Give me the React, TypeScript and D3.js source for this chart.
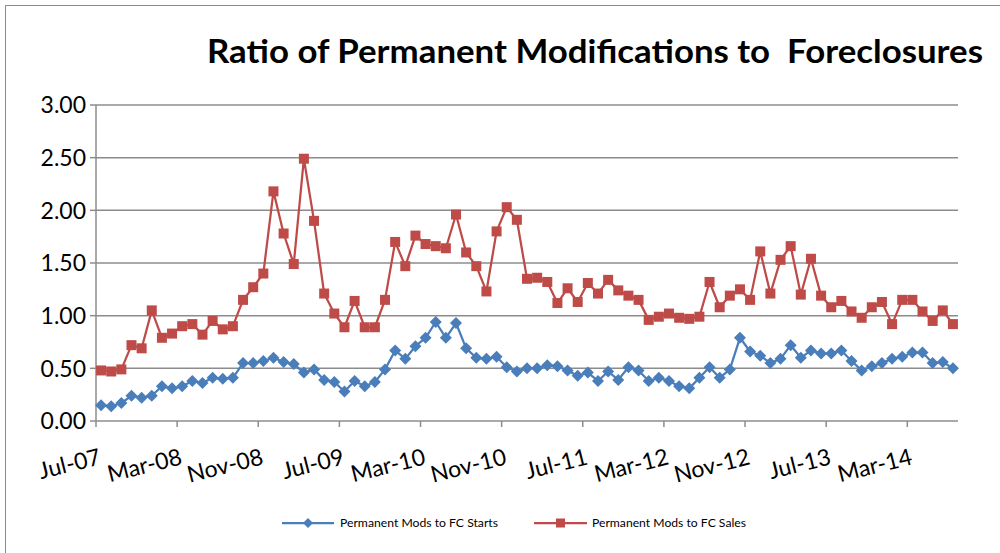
import React, { useEffect } from "react";
import * as d3 from "d3";

const months: Date[] = d3.timeMonth.range(new Date(2007, 6, 1), new Date(2014, 7, 1));
const fmt = d3.timeFormat("%b-%y");
const categories: string[] = months.map((m) => fmt(m));

const tickLabels = ["Jul-07", "Mar-08", "Nov-08", "Jul-09", "Mar-10", "Nov-10", "Jul-11", "Mar-12", "Nov-12", "Jul-13", "Mar-14"];
const yTicks = [0, 0.5, 1, 1.5, 2, 2.5, 3];

const fcStarts = [
  0.15, 0.14, 0.17, 0.24, 0.22, 0.24, 0.33, 0.31, 0.33, 0.38,
  0.36, 0.41, 0.40, 0.41, 0.55, 0.55, 0.57, 0.60, 0.56, 0.54,
  0.46, 0.49, 0.39, 0.37, 0.28, 0.38, 0.33, 0.37, 0.49, 0.67,
  0.59, 0.71, 0.79, 0.94, 0.79, 0.93, 0.69, 0.60, 0.59, 0.61,
  0.51, 0.47, 0.50, 0.50, 0.53, 0.52, 0.48, 0.43, 0.46, 0.38,
  0.47, 0.39, 0.51, 0.48, 0.38, 0.41, 0.38, 0.33, 0.31, 0.41,
  0.51, 0.41, 0.49, 0.79, 0.66, 0.62, 0.55, 0.59, 0.72, 0.60,
  0.67, 0.64, 0.64, 0.67, 0.57, 0.48, 0.52, 0.55, 0.59, 0.61,
  0.65, 0.65, 0.55, 0.56, 0.50,
];

const fcSales = [
  0.48, 0.47, 0.49, 0.72, 0.69, 1.05, 0.79, 0.83, 0.90, 0.92,
  0.82, 0.95, 0.87, 0.90, 1.15, 1.27, 1.40, 2.18, 1.78, 1.49,
  2.49, 1.90, 1.21, 1.02, 0.89, 1.14, 0.89, 0.89, 1.15, 1.70,
  1.47, 1.76, 1.68, 1.66, 1.64, 1.96, 1.60, 1.47, 1.23, 1.80,
  2.03, 1.91, 1.35, 1.36, 1.32, 1.12, 1.26, 1.13, 1.31, 1.21,
  1.34, 1.24, 1.19, 1.15, 0.96, 0.99, 1.02, 0.98, 0.97, 0.99,
  1.32, 1.08, 1.19, 1.25, 1.15, 1.61, 1.21, 1.53, 1.66, 1.20,
  1.54, 1.19, 1.08, 1.14, 1.04, 0.98, 1.08, 1.13, 0.92, 1.15,
  1.15, 1.04, 0.95, 1.05, 0.92,
];

const seriesNames = ["Permanent Mods to FC Starts", "Permanent Mods to FC Sales"];
const BLUE = "#4A7EBB";
const RED = "#BE4B48";
const FONT = "Lato, 'Open Sans', sans-serif";

export default function App() {
  useEffect(() => {
    document.body.style.margin = "0";
  }, []);

  const W = 1000, H = 553;
  const left = 96, right = 958, top = 105, bottom = 421;
  const x = d3.scaleBand<string>().domain(categories).range([left, right]).padding(0);
  const y = d3.scaleLinear().domain([0, 3]).range([bottom, top]);
  const cx = (c: string) => (x(c) as number) + x.bandwidth() / 2;

  const line = d3
    .line<number>()
    .x((_, i) => cx(categories[i]))
    .y((d) => y(d));

  const tickIdx = categories.map((c, i) => i).filter((i) => i % 8 === 0);

  const diamond = (px: number, py: number, r: number) =>
    `M${px},${py - r}L${px + r},${py}L${px},${py + r}L${px - r},${py}Z`;

  return (
    <svg width={W} height={H} style={{ display: "block" }}>
      <rect x={0} y={0} width={W} height={H} fill="#fff" />
      <rect x={5.5} y={5.5} width={W + 10} height={H + 10} fill="none" stroke="#8a8a8a" strokeWidth={1} />
      <text
        x={207}
        y={63}
        fontFamily={FONT}
        fontWeight="bold"
        fontSize={32}
        textLength={776}
        lengthAdjust="spacingAndGlyphs"
        fill="#000"
        style={{ whiteSpace: "pre" }}
      >
        Ratio of Permanent Modifications to  Foreclosures
      </text>

      {yTicks.map((t) => (
        <g key={t}>
          <line x1={left} x2={right} y1={y(t)} y2={y(t)} stroke="#8c8c8c" strokeWidth={1.5} />
          <line x1={left - 6} x2={left} y1={y(t)} y2={y(t)} stroke="#8c8c8c" strokeWidth={1.5} />
          <text x={86} y={y(t)} dy="0.36em" textAnchor="end" fontFamily={FONT} fontSize={23} fill="#000">
            {t.toFixed(2)}
          </text>
        </g>
      ))}
      <line x1={left} x2={left} y1={top} y2={bottom} stroke="#8c8c8c" strokeWidth={1.5} />

      {tickIdx.map((i) => (
        <line key={i} x1={x(categories[i]) as number} x2={x(categories[i]) as number} y1={bottom} y2={bottom + 6} stroke="#8c8c8c" strokeWidth={1.5} />
      ))}
      {tickIdx.map((i, k) => (
        <text
          key={"l" + i}
          transform={`translate(${cx(categories[i]) + 1},${464}) rotate(-14)`}
          textAnchor="end"
          fontFamily={FONT}
          fontSize={23}
          fill="#000"
        >
          {tickLabels[k]}
        </text>
      ))}

      <path d={line(fcStarts) || ""} fill="none" stroke={BLUE} strokeWidth={2.25} strokeLinejoin="round" />
      {fcStarts.map((d, i) => (
        <path key={"b" + i} d={diamond(cx(categories[i]), y(d), 6)} fill={BLUE} />
      ))}
      <path d={line(fcSales) || ""} fill="none" stroke={RED} strokeWidth={2.25} strokeLinejoin="round" />
      {fcSales.map((d, i) => (
        <rect key={"r" + i} x={cx(categories[i]) - 5} y={y(d) - 5} width={10} height={10} fill={RED} />
      ))}

      <g>
        <line x1={282} x2={334} y1={523} y2={523} stroke={BLUE} strokeWidth={2.25} />
        <path d={diamond(308, 523, 5)} fill={BLUE} />
        <text x={340} y={523} dy="0.35em" fontFamily={FONT} fontSize={11.5} textLength={158} lengthAdjust="spacingAndGlyphs" fill="#000">
          {seriesNames[0]}
        </text>
        <line x1={534} x2={587} y1={523} y2={523} stroke={RED} strokeWidth={2.25} />
        <rect x={556} y={518.5} width={9} height={9} fill={RED} />
        <text x={592} y={523} dy="0.35em" fontFamily={FONT} fontSize={11.5} textLength={154} lengthAdjust="spacingAndGlyphs" fill="#000">
          {seriesNames[1]}
        </text>
      </g>
    </svg>
  );
}
